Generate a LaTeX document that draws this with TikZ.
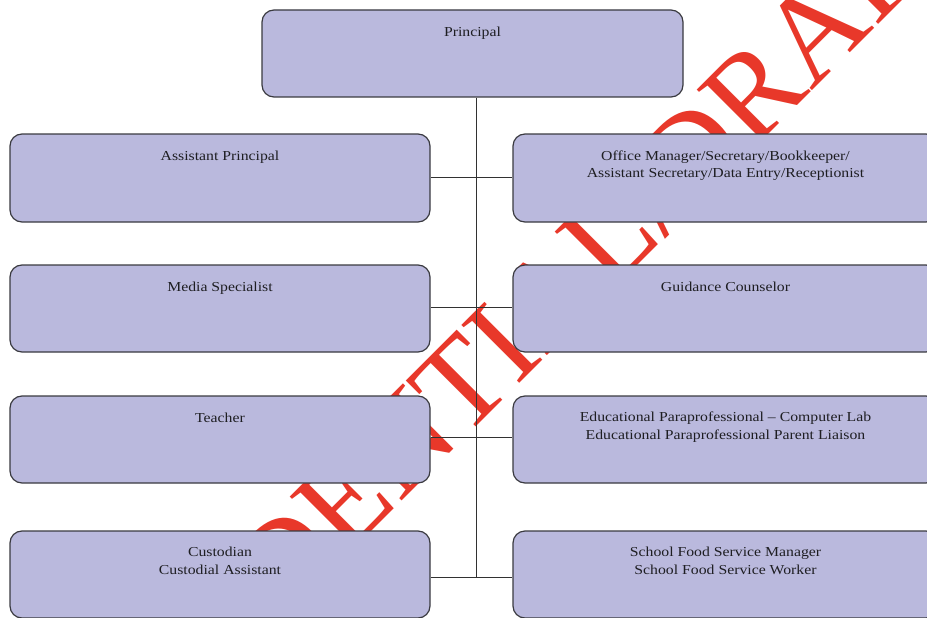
\documentclass[tikz,border=0pt]{standalone}
\usepackage{fontspec}
\setmainfont{Liberation Serif}
\newfontfamily\boxfont[FakeStretch=1.15]{Liberation Serif}
\definecolor{boxfill}{RGB}{186,185,221}
\definecolor{boxline}{RGB}{58,58,64}
\definecolor{linecol}{RGB}{50,50,50}
\definecolor{textcol}{RGB}{30,30,34}
\definecolor{stamp}{RGB}{232,56,42}
\begin{document}
\begin{tikzpicture}[x=1pt,y=-1pt]
\tikzset{
  role/.style={draw=boxline, line width=1.2pt, fill=boxfill, rounded corners=12pt,
    inner sep=0pt, minimum height=87pt},
  leftrole/.style={role, minimum width=420pt},
  rightrole/.style={role, minimum width=425pt},
  roletext/.style={font=\boxfont\fontsize{13.7}{17.5}\selectfont, text=textcol,
    align=center, anchor=base, inner sep=0pt},
  link/.style={draw=linecol, line width=1pt},
  watermark/.style={font=\fontsize{125}{125}\selectfont, text=stamp, inner sep=0pt}
}
\useasboundingbox (0,0) rectangle (927,618);
\clip (0,0) rectangle (927,618);

% draft stamp, lying under the chart
\node[watermark, rotate=45, anchor=base west] (stampmark) at (16,887) {CONFIDENTIAL/DRAFT};

% spine junctions
\coordinate (j1) at (476.5,177);
\coordinate (j2) at (476.5,307);
\coordinate (j3) at (476.5,437);
\coordinate (j4) at (476.5,577);

% boxes
\node[role, minimum width=421pt] (pr) at (472.5,53.5) {};
\node[leftrole, minimum height=88pt]  (ap) at (220,178) {};
\node[rightrole, minimum height=88pt] (om) at (725.5,178) {};
\node[leftrole]  (ms) at (220,308.5) {};
\node[rightrole] (gc) at (725.5,308.5) {};
\node[leftrole]  (te) at (220,439.5) {};
\node[rightrole] (ep) at (725.5,439.5) {};
\node[leftrole]  (cu) at (220,574.5) {};
\node[rightrole] (fs) at (725.5,574.5) {};

% connectors
\draw[link] (pr.south -| j1) -- (j4);
\draw[link] (ap.east |- j1) -- (om.west |- j1);
\draw[link] (ms.east |- j2) -- (gc.west |- j2);
\draw[link] (te.east |- j3) -- (ep.west |- j3);
\draw[link] (cu.east |- j4) -- (fs.west |- j4);

% labels: one-line labels sit on the first baseline, two-line ones on the second
\node[roletext] (prt) at ([yshift=-27pt]pr.north) {Principal};
\node[roletext] (apt) at ([yshift=-27pt]ap.north) {Assistant Principal};
\node[roletext] (omt) at ([yshift=-44.5pt]om.north) {Office Manager/Secretary/Bookkeeper/\\Assistant Secretary/Data Entry/Receptionist};
\node[roletext] (mst) at ([yshift=-27pt]ms.north) {Media Specialist};
\node[roletext] (gct) at ([yshift=-27pt]gc.north) {Guidance Counselor};
\node[roletext] (tet) at ([yshift=-27pt]te.north) {Teacher};
\node[roletext] (ept) at ([yshift=-44pt]ep.north) {Educational Paraprofessional – Computer Lab\\Educational Paraprofessional Parent Liaison};
\node[roletext] (cut) at ([yshift=-44pt]cu.north) {Custodian\\Custodial Assistant};
\node[roletext] (fst) at ([yshift=-44pt]fs.north) {School Food Service Manager\\School Food Service Worker};
\end{tikzpicture}
\end{document}
